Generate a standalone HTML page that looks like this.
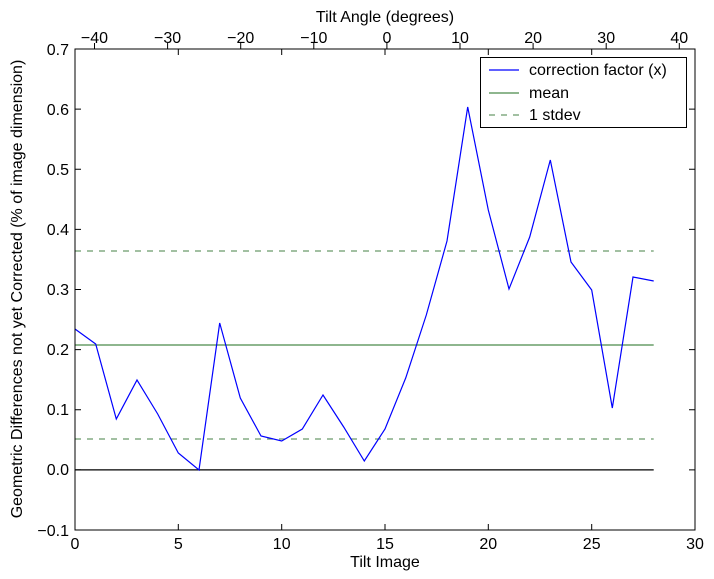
<!DOCTYPE html>
<html><head><meta charset="utf-8"><style>body{margin:0;background:#fff}svg{display:block}text{font-family:"Liberation Sans",sans-serif;font-size:16px;fill:#000}</style></head><body>
<svg width="714" height="579" xmlns="http://www.w3.org/2000/svg">
<rect width="714" height="579" fill="#fff"/>
<g stroke="#000" stroke-width="1">
<path d="M75,530v-6M178.3,530v-6M281.7,530v-6M385,530v-6M488.3,530v-6M591.7,530v-6M695,530v-6M75,49v6M178.3,49v6M281.7,49v6M385,49v6M488.3,49v6M591.7,49v6M695,49v6"/>
<path d="M75,49h6M75,109.1h6M75,169.3h6M75,229.4h6M75,289.5h6M75,349.6h6M75,409.8h6M75,469.9h6M75,530h6M695,49h-6M695,109.1h-6M695,169.3h-6M695,229.4h-6M695,289.5h-6M695,349.6h-6M695,409.8h-6M695,469.9h-6M695,530h-6"/>
</g>
<g stroke="#000"><path d="M94.5,49v-6M167.6,49v-6M240.7,49v-6M313.8,49v-6M386.9,49v-6M460,49v-6M533.1,49v-6M606.2,49v-6M679.3,49v-6"/></g>
<line x1="75" y1="469.9" x2="653.7" y2="469.9" stroke="#000" stroke-width="1.2"/>
<line x1="75" y1="345" x2="653.7" y2="345" stroke="#4a8a4a" stroke-width="1.2"/>
<line x1="75" y1="251" x2="653.7" y2="251" stroke="#6a9a6a" stroke-width="1.2" stroke-dasharray="6,6"/>
<line x1="75" y1="439" x2="653.7" y2="439" stroke="#6a9a6a" stroke-width="1.2" stroke-dasharray="6,6"/>
<polyline fill="none" stroke="#0000ff" stroke-width="1.2" points="75,329 95.7,344 116.3,419 137,380 157.7,414 178.3,453 199,470 219.7,323 240.3,398 261,436 281.7,441 302.3,429 323,395 343.7,427 364.3,461 385,429 405.7,378 426.3,315 447,241 467.7,107 488.3,210 509,289 529.7,237 550.3,160 571,262 591.7,290 612.3,408 633,277 653.7,281"/>
<rect x="75" y="49" width="620" height="481" fill="none" stroke="#000" stroke-width="1"/>
<rect x="480.5" y="57.5" width="206" height="70" fill="#fff" stroke="#000"/>
<line x1="489" y1="70" x2="519" y2="70" stroke="#0000ff" stroke-width="1.2"/>
<line x1="489" y1="93" x2="519" y2="93" stroke="#4a8a4a" stroke-width="1.2"/>
<line x1="489" y1="115" x2="519" y2="115" stroke="#6a9a6a" stroke-width="1.2" stroke-dasharray="6,6"/>
<text x="529" y="75">correction factor (x)</text>
<text x="529" y="98">mean</text>
<text x="529" y="120">1 stdev</text>
<g text-anchor="middle">
<text x="75" y="549">0</text><text x="178.3" y="549">5</text><text x="281.7" y="549">10</text><text x="385" y="549">15</text><text x="488.3" y="549">20</text><text x="591.7" y="549">25</text><text x="695" y="549">30</text>
<text x="385" y="567">Tilt Image</text>
<text x="94.5" y="43">−40</text><text x="167.6" y="43">−30</text><text x="240.7" y="43">−20</text><text x="313.8" y="43">−10</text><text x="386.9" y="43">0</text><text x="460" y="43">10</text><text x="533.1" y="43">20</text><text x="606.2" y="43">30</text><text x="679.3" y="43">40</text>
<text x="385" y="22">Tilt Angle (degrees)</text>
<text transform="translate(22,289) rotate(-90)">Geometric Differences not yet Corrected (% of image dimension)</text>
</g>
<g text-anchor="end">
<text x="69" y="55">0.7</text><text x="69" y="115">0.6</text><text x="69" y="175">0.5</text><text x="69" y="235">0.4</text><text x="69" y="295">0.3</text><text x="69" y="355">0.2</text><text x="69" y="415">0.1</text><text x="69" y="475">0.0</text><text x="69" y="536">−0.1</text>
</g>
</svg>
</body></html>
